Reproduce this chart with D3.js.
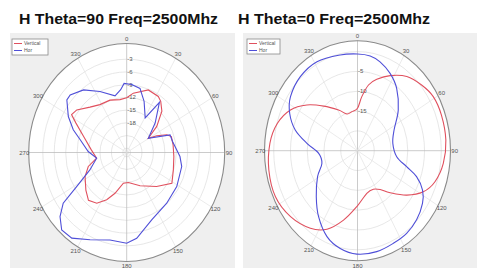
<!DOCTYPE html>
<html>
<head>
<meta charset="utf-8">
<script src="https://cdn.jsdelivr.net/npm/d3@7"></script>
<style>
  body { margin: 0; background: #fff; }
  svg { display: block; font-family: "Liberation Sans", Arial, sans-serif; }
</style>
</head>
<body>
<div id="chart"></div>
<script>
// angle ticks (deg, clockwise from top)
var angleTicks = [0, 30, 60, 90, 120, 150, 180, 210, 240, 270, 300, 330];
var legendNames = ["Vertical", "Hor"];

// H Theta=90
var t90Rings = [-24, -21, -18, -15, -12, -9, -6, -3];
var t90RingLabels = [-3, -6, -9, -12, -15, -18];
var t90HorAngles = [4.6, 13, 20.7, 30.7, 36, 47, 59.3, 69.9, 77.8, 93.9, 102.9, 121.5, 138.7, 157.6, 172.6, 180, 192, 205, 215.5, 223, 229.2, 234.3, 238.5, 247, 260.4, 271.3, 283.7, 290.9, 299, 308.3, 312.5, 322.5, 334, 347.1, 353.9, 357.6];
var t90HorDb = [-8.9, -9.5, -12.1, -15.5, -10.4, -14.8, -18.4, -12.9, -12.7, -11, -10.2, -9.6, -9.1, -7.8, -4.6, -3.6, -3.9, -2.3, -0.2, 0, -1.9, -4.5, -9.6, -14.5, -17, -14.9, -12.5, -10, -7.5, -5, -4.9, -6.4, -9, -11.3, -10.1, -8.7];
var t90VerAngles = [0, 7.1, 21, 32.1, 36.5, 43.5, 52, 59.3, 63.4, 68.3, 72.2, 81.6, 94.4, 108.5, 121.5, 135.6, 156, 176.5, 186.9, 197.7, 205.2, 213.3, 221.6, 230.4, 242.6, 251.9, 260.4, 273.8, 288.4, 297.5, 301.7, 307.5, 318, 328.1, 340.4, 352];
var t90VerDb = [-12.1, -10.9, -9.2, -9.4, -10, -11.6, -15, -18.4, -16.2, -13.7, -12.7, -12.7, -12.6, -12.1, -11.1, -13.8, -16.4, -17.9, -17.7, -14.9, -12.7, -10.7, -9.9, -11.1, -12.7, -14.4, -17, -15.7, -13.1, -10, -8, -8.5, -10.6, -11.7, -11.9, -12.4];

// H Theta=0
var t0Rings = [-20, -15, -10, -5, 0];
var t0RingLabels = [-15, -10, -5];
var t0HorAngles = [0, 9, 16.7, 26.5, 36.6, 49.9, 64.4, 80, 97.4, 105.4, 110.4, 117.1, 124.4, 134.7, 144.9, 155.4, 167.3, 180.4, 191.8, 202.8, 214.9, 226.7, 241.2, 253.2, 266.7, 277, 285.7, 294.9, 304.3, 317.6, 331.7, 347.9];
var t0HorDb = [-0.6, -0.8, -1.6, -3.2, -5.4, -9.1, -12.9, -14.3, -13.2, -9.8, -6.2, -3.2, -1.5, -0.2, 0.5, 0.7, 1.1, 1.1, 0.2, -1.5, -4.7, -8.1, -11.4, -13.9, -13.4, -9.8, -5.7, -2.7, -0.8, 0.3, 0.5, -0.3];
var t0VerAngles = [0, 5.4, 11.2, 17.7, 27.2, 38.2, 49.1, 58.9, 70.3, 84.2, 97.1, 108.7, 117.8, 127.3, 137.5, 145.4, 154, 165.5, 180.8, 193.4, 204.7, 215.7, 230.2, 244.6, 259.6, 274.1, 286, 297.2, 307.4, 318.1, 331.1, 341.1, 350.3];
var t0VerDb = [-14.3, -11.3, -8.1, -6.1, -3.7, -1.2, 0.3, 1.4, 1.6, 1.5, 0.8, -0.6, -2.8, -6.5, -10.6, -13.1, -14.2, -13.9, -10.9, -7, -3.2, -0.9, 1, 2.1, 1.9, 1.2, -0.1, -2.5, -6, -9.9, -13.3, -15.2, -15];

var width = 481, height = 268;
var RED = "#e0505e", BLUE = "#4f4fd8";

var svg = d3.select("#chart").append("svg")
    .attr("width", width)
    .attr("height", height);

function zip(a, b) {
    return a.map(function(d, i) { return {a: d, v: b[i]}; });
}

function drawPolar(cfg) {
    // 見出し
    svg.append("text")
        .attr("x", cfg.titleX)
        .attr("y", 24)
        .attr("textLength", cfg.titleW)
        .attr("lengthAdjust", "spacingAndGlyphs")
        .style("font-size", "15px")
        .style("font-weight", "bold")
        .style("fill", "#111")
        .text(cfg.title);

    svg.append("rect")
        .attr("x", cfg.panel[0]).attr("y", cfg.panel[1])
        .attr("width", cfg.panel[2]).attr("height", cfg.panel[3])
        .attr("fill", "#efefef");

    var g = svg.append("g");
    var r = d3.scaleLinear().domain(cfg.rDomain).range([0, 1]);
    var rad = d3.scaleLinear().domain([0, 360]).range([0, 2 * Math.PI]);
    function px(a, f) { return cfg.cx + f * cfg.rx * Math.sin(rad(a)); }
    function py(a, f) { return cfg.cy - f * cfg.ry * Math.cos(rad(a)); }

    g.append("ellipse")
        .attr("cx", cfg.cx).attr("cy", cfg.cy)
        .attr("rx", cfg.rx).attr("ry", cfg.ry)
        .attr("fill", "#fff");

    g.selectAll(".ring")
        .data(cfg.rings)
        .enter().append("ellipse")
        .attr("cx", cfg.cx).attr("cy", cfg.cy)
        .attr("rx", function(d) { return r(d) * cfg.rx; })
        .attr("ry", function(d) { return r(d) * cfg.ry; })
        .attr("fill", "none")
        .attr("stroke", "#dcdcdc")
        .attr("stroke-width", 0.7);

    g.selectAll(".spoke")
        .data(angleTicks)
        .enter().append("line")
        .attr("x1", cfg.cx).attr("y1", cfg.cy)
        .attr("x2", function(d) { return px(d, 1); })
        .attr("y2", function(d) { return py(d, 1); })
        .attr("stroke", function(d) { return d % 90 === 0 ? "#b5b5b5" : "#e2e2e2"; })
        .attr("stroke-width", 0.7);

    g.append("ellipse")
        .attr("cx", cfg.cx).attr("cy", cfg.cy)
        .attr("rx", cfg.rx).attr("ry", cfg.ry)
        .attr("fill", "none")
        .attr("stroke", "#8a8a8a")
        .attr("stroke-width", 1.1);

    g.selectAll(".alabel")
        .data(angleTicks)
        .enter().append("text")
        .attr("x", function(d) { return px(d, 1.045); })
        .attr("y", function(d) { return py(d, 1.045) + 2; })
        .attr("text-anchor", "middle")
        .style("font-size", "6px")
        .style("fill", "#555")
        .text(function(d) { return d; });

    g.selectAll(".rlabel")
        .data(cfg.ringLabels)
        .enter().append("text")
        .attr("x", cfg.cx + 0.5)
        .attr("y", function(d) { return py(0, r(d)) + 2; })
        .style("font-size", "6px")
        .style("fill", "#555")
        .text(function(d) { return d; });

    var line = d3.line()
        .x(function(d) { return px(d.a, r(d.v)); })
        .y(function(d) { return py(d.a, r(d.v)); })
        .curve(cfg.curve);

    cfg.series.forEach(function(s) {
        g.append("path")
            .datum(zip(s.angles, s.db))
            .attr("d", line)
            .attr("fill", "none")
            .attr("stroke", s.color)
            .attr("stroke-width", 1.1);
    });

    // 凡例
    var lg = cfg.legend;
    svg.append("rect")
        .attr("x", lg[0]).attr("y", lg[1])
        .attr("width", lg[2]).attr("height", lg[3])
        .attr("fill", "#fff")
        .attr("stroke", "#8a8a8a")
        .attr("stroke-width", 0.8);
    [RED, BLUE].forEach(function(c, i) {
        var yy = lg[1] + 4.5 + i * 7;
        svg.append("line")
            .attr("x1", lg[0] + 2).attr("x2", lg[0] + 10)
            .attr("y1", yy).attr("y2", yy)
            .attr("stroke", c).attr("stroke-width", 1);
        svg.append("text")
            .attr("x", lg[0] + 12).attr("y", yy + 1.8)
            .style("font-size", "5px")
            .style("fill", "#555")
            .text(legendNames[i]);
    });
}

drawPolar({
    title: "H Theta=90 Freq=2500Mhz", titleX: 19, titleW: 199,
    panel: [10, 33, 225, 235],
    cx: 126.7, cy: 152.5, rx: 98, ry: 109,
    rDomain: [-25, 0.7],
    rings: t90Rings, ringLabels: t90RingLabels,
    curve: d3.curveLinearClosed,
    legend: [12, 39, 36, 16],
    series: [
        {angles: t90VerAngles, db: t90VerDb, color: RED},
        {angles: t90HorAngles, db: t90HorDb, color: BLUE}
    ]
});

drawPolar({
    title: "H Theta=0 Freq=2500Mhz", titleX: 238, titleW: 192,
    panel: [243, 33, 234, 235],
    cx: 357.5, cy: 150.7, rx: 93, ry: 110,
    rDomain: [-25, 2.75],
    rings: t0Rings, ringLabels: t0RingLabels,
    curve: d3.curveCardinalClosed,
    legend: [247, 39, 33, 15],
    series: [
        {angles: t0VerAngles, db: t0VerDb, color: RED},
        {angles: t0HorAngles, db: t0HorDb, color: BLUE}
    ]
});
</script>
</body>
</html>
